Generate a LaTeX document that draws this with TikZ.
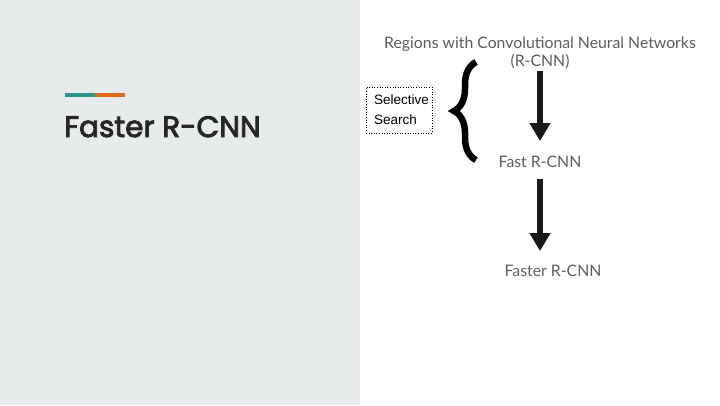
\documentclass[tikz,border=0pt]{standalone}
\usepackage{fontspec}
\setmainfont{Lato}
\newfontfamily\titlefont{Poppins}
\newfontfamily\boxfont{Liberation Sans}
\usetikzlibrary{arrows.meta,decorations.pathreplacing}
\definecolor{panelgray}{HTML}{E8EBEC}
\definecolor{barteal}{HTML}{28968B}
\definecolor{barorange}{HTML}{E2661C}
\definecolor{textgray}{HTML}{5E5E5E}
\definecolor{titleink}{HTML}{262626}
\newcommand{\heavytext}[1]{\special{pdf:literal direct 2 Tr 0.9 w}#1\special{pdf:literal direct 0 Tr}}

\begin{document}
\begin{tikzpicture}[
  x=1pt,y=-1pt,
  label/.style={font=\fontsize{15.8}{18}\selectfont,text=textgray,align=center,inner sep=2pt},
  selbox/.style={draw=black,line width=0.6pt,dotted,align=left,inner sep=0pt,
                 minimum width=66pt,minimum height=46pt,text width=50pt,
                 font=\boxfont\fontsize{13.5}{17}\selectfont},
  bigarr/.style={-{Triangle[length=18pt,width=20pt]},line width=6pt,draw=black!90},
  accent/.style={line width=4pt},
]
% ---- canvas and left panel ----
\useasboundingbox (0,0) rectangle (720,405);
\fill[white] (0,0) rectangle (720,405);
\fill[panelgray] (0,0) rectangle (360,405);
\draw[accent,barteal] (65,95) -- (95,95);
\draw[accent,barorange] (95,95) -- (125,95);
\node[anchor=base west,inner sep=0pt,text=titleink,
      font=\titlefont\fontsize{29.5}{31}\selectfont] (title) at (64,137) {\heavytext{Faster R-CNN}};

% ---- evolution chain ----
\node[label] (rcnn) at (540,53) {Regions with Convolutional Neural Networks\\(R-CNN)};
\node[label] (fast) at (540,162) {Fast R-CNN};
\node[label] (faster) at (553,271) {Faster R-CNN};
\draw[bigarr,shorten >=13pt] (rcnn.south) -- (fast.north);
\draw[bigarr,shorten <=9pt,shorten >=12pt] (fast.south) -- (fast.south |- faster.north);

% ---- proposal method ----
\node[selbox] (sel) at (399,110) {\vspace{3pt}Selective\\Search};
\draw[line width=6.5pt,decorate,decoration={brace,amplitude=22pt}] (476,160) -- (476,62);
\end{tikzpicture}
\end{document}
